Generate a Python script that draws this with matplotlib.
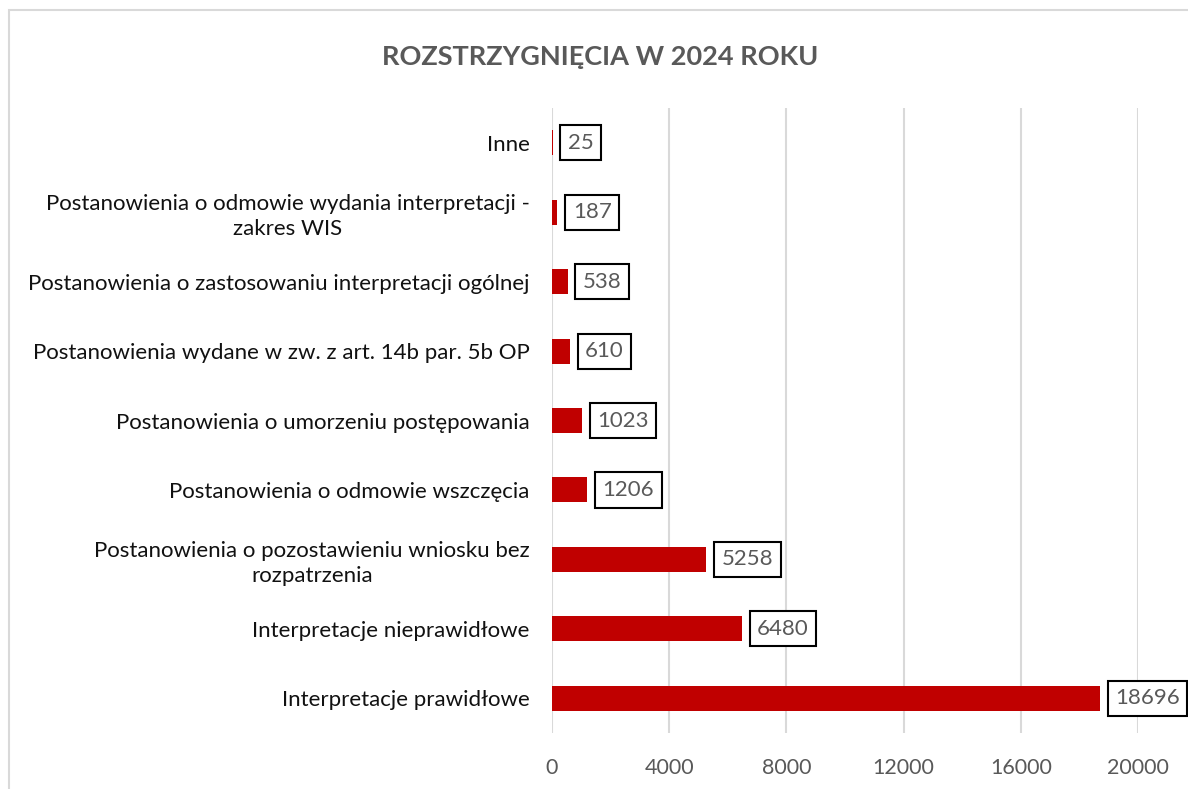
import matplotlib
matplotlib.use("Agg")
import matplotlib.pyplot as plt
from matplotlib.patches import Rectangle

categories = [
    "Inne",
    "Postanowienia o odmowie wydania interpretacji -\nzakres WIS",
    "Postanowienia o zastosowaniu interpretacji ogólnej",
    "Postanowienia wydane w zw. z art. 14b par. 5b OP",
    "Postanowienia o umorzeniu postępowania",
    "Postanowienia o odmowie wszczęcia",
    "Postanowienia o pozostawieniu wniosku bez\nrozpatrzenia",
    "Interpretacje nieprawidłowe",
    "Interpretacje prawidłowe",
]
values = [25, 187, 538, 610, 1023, 1206, 5258, 6480, 18696]
xticks = [0, 4000, 8000, 12000, 16000, 20000]

title = "ROZSTRZYGNIĘCIA W 2024 ROKU"
bar_color = "#C00000"
gray_text = "#595959"
grid_color = "#D9D9D9"

plt.rcParams["font.family"] = ["Lato", "DejaVu Sans"]

fig = plt.figure(figsize=(11.88, 7.89), dpi=100)
ax = fig.add_axes([552 / 1188, 1 - 733 / 789, (1138 - 552) / 1188, (733 - 108) / 789])

ypos = list(range(len(categories)))
ax.barh(ypos, values, height=0.36, color=bar_color, zorder=3)
ax.set_ylim(len(categories) - 0.5, -0.5)
ax.set_xlim(0, 20000)
ax.set_xticks(xticks)
ax.set_xticklabels([str(t) for t in xticks], fontsize=15.5, color=gray_text)
ax.set_yticks(ypos)
ax.set_yticklabels(categories, fontsize=16, color="#111111",
                   multialignment="center", linespacing=1.3)
ax.tick_params(axis="both", length=0)
ax.tick_params(axis="y", pad=16)
ax.tick_params(axis="x", pad=18)
ax.grid(axis="x", color=grid_color, linewidth=1.5, zorder=0)
for s in ax.spines.values():
    s.set_visible(False)

# data labels in boxes
for y, v in zip(ypos, values):
    ax.annotate(str(v), xy=(v, y), xytext=(11, 0), textcoords="offset points",
                ha="left", va="center", fontsize=16, color=gray_text,
                bbox=dict(boxstyle="square,pad=0.34", fc="white", ec="black", lw=1.5),
                annotation_clip=False, zorder=5)

fig.text(600 / 1188, 1 - 57 / 789, title, ha="center", va="center",
         fontsize=19.5, fontweight="bold", color=gray_text)

# chart area border
fig.patches.append(Rectangle((9 / 1188, -0.01), 1.02, 1 - 10 / 789 + 0.01,
                             transform=fig.transFigure, fill=False,
                             ec=grid_color, lw=1.5))

fig.savefig("out.png", dpi=100)
